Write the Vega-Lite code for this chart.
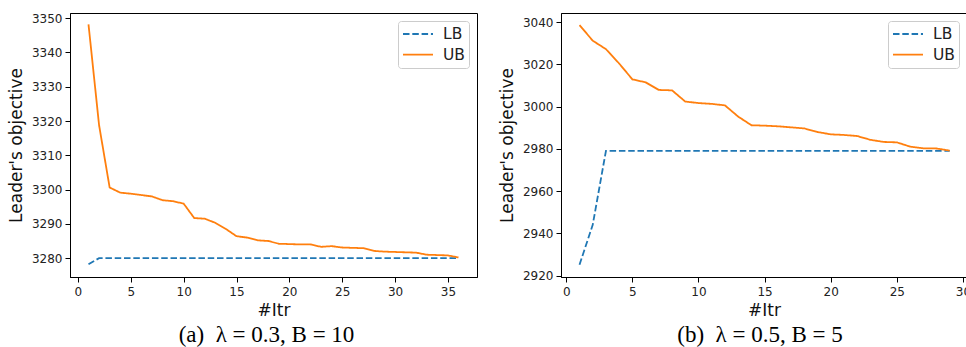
{
  "$schema": "https://vega.github.io/schema/vega-lite/v6.json",
  "background": "white",
  "padding": {"left": 6, "top": 11, "right": 0, "bottom": 0},
  "bounds": "flush",
  "spacing": 84,
  "config": {
    "view": {"stroke": "black", "strokeWidth": 1},
    "axis": {
      "grid": false,
      "domainColor": "black",
      "domainWidth": 1,
      "tickColor": "black",
      "tickSize": 5,
      "tickWidth": 1,
      "labelFont": "DejaVu Sans",
      "labelFontSize": 12,
      "labelColor": "#222222",
      "labelPadding": 3,
      "labelFlush": false,
      "labelOverlap": false,
      "format": "d",
      "titleFont": "DejaVu Sans",
      "titleFontSize": 17,
      "titleFontWeight": "normal",
      "titleColor": "#111111"
    },
    "axisX": {"labelPadding": 4, "titlePadding": 5},
    "axisY": {"titlePadding": 6},
    "legend": {
      "orient": "top-right",
      "offset": 8,
      "padding": 4,
      "strokeColor": "#cccccc",
      "fillColor": "rgba(255,255,255,0.8)",
      "cornerRadius": 3,
      "symbolType": "stroke",
      "symbolSize": 900,
      "symbolStrokeWidth": 1.8,
      "clipHeight": 18,
      "rowPadding": 2.7,
      "labelFont": "DejaVu Sans",
      "labelFontSize": 15.5,
      "labelColor": "#222222",
      "labelOffset": 9
    },
    "title": {
      "orient": "bottom",
      "anchor": "middle",
      "font": "Liberation Serif",
      "fontSize": 23,
      "fontWeight": "normal",
      "color": "black",
      "offset": 6
    }
  },
  "datasets": {
    "a": [
      {"series": "LB", "itr": 1, "value": 3278.2},
      {"series": "LB", "itr": 2, "value": 3280.0},
      {"series": "LB", "itr": 3, "value": 3280.0},
      {"series": "LB", "itr": 4, "value": 3280.0},
      {"series": "LB", "itr": 5, "value": 3280.0},
      {"series": "LB", "itr": 6, "value": 3280.0},
      {"series": "LB", "itr": 7, "value": 3280.0},
      {"series": "LB", "itr": 8, "value": 3280.0},
      {"series": "LB", "itr": 9, "value": 3280.0},
      {"series": "LB", "itr": 10, "value": 3280.0},
      {"series": "LB", "itr": 11, "value": 3280.0},
      {"series": "LB", "itr": 12, "value": 3280.0},
      {"series": "LB", "itr": 13, "value": 3280.0},
      {"series": "LB", "itr": 14, "value": 3280.0},
      {"series": "LB", "itr": 15, "value": 3280.0},
      {"series": "LB", "itr": 16, "value": 3280.0},
      {"series": "LB", "itr": 17, "value": 3280.0},
      {"series": "LB", "itr": 18, "value": 3280.0},
      {"series": "LB", "itr": 19, "value": 3280.0},
      {"series": "LB", "itr": 20, "value": 3280.0},
      {"series": "LB", "itr": 21, "value": 3280.0},
      {"series": "LB", "itr": 22, "value": 3280.0},
      {"series": "LB", "itr": 23, "value": 3280.0},
      {"series": "LB", "itr": 24, "value": 3280.0},
      {"series": "LB", "itr": 25, "value": 3280.0},
      {"series": "LB", "itr": 26, "value": 3280.0},
      {"series": "LB", "itr": 27, "value": 3280.0},
      {"series": "LB", "itr": 28, "value": 3280.0},
      {"series": "LB", "itr": 29, "value": 3280.0},
      {"series": "LB", "itr": 30, "value": 3280.0},
      {"series": "LB", "itr": 31, "value": 3280.0},
      {"series": "LB", "itr": 32, "value": 3280.0},
      {"series": "LB", "itr": 33, "value": 3280.0},
      {"series": "LB", "itr": 34, "value": 3280.0},
      {"series": "LB", "itr": 35, "value": 3280.0},
      {"series": "LB", "itr": 36, "value": 3280.0},
      {"series": "UB", "itr": 1, "value": 3348.2},
      {"series": "UB", "itr": 2, "value": 3318.8},
      {"series": "UB", "itr": 3, "value": 3300.6},
      {"series": "UB", "itr": 4, "value": 3299.1},
      {"series": "UB", "itr": 5, "value": 3298.8},
      {"series": "UB", "itr": 6, "value": 3298.4},
      {"series": "UB", "itr": 7, "value": 3298.0},
      {"series": "UB", "itr": 8, "value": 3296.9},
      {"series": "UB", "itr": 9, "value": 3296.6},
      {"series": "UB", "itr": 10, "value": 3295.9},
      {"series": "UB", "itr": 11, "value": 3291.7},
      {"series": "UB", "itr": 12, "value": 3291.5},
      {"series": "UB", "itr": 13, "value": 3290.3},
      {"series": "UB", "itr": 14, "value": 3288.5},
      {"series": "UB", "itr": 15, "value": 3286.4},
      {"series": "UB", "itr": 16, "value": 3286.0},
      {"series": "UB", "itr": 17, "value": 3285.2},
      {"series": "UB", "itr": 18, "value": 3285.0},
      {"series": "UB", "itr": 19, "value": 3284.2},
      {"series": "UB", "itr": 20, "value": 3284.1},
      {"series": "UB", "itr": 21, "value": 3284.0},
      {"series": "UB", "itr": 22, "value": 3284.0},
      {"series": "UB", "itr": 23, "value": 3283.3},
      {"series": "UB", "itr": 24, "value": 3283.5},
      {"series": "UB", "itr": 25, "value": 3283.1},
      {"series": "UB", "itr": 26, "value": 3283.0},
      {"series": "UB", "itr": 27, "value": 3282.9},
      {"series": "UB", "itr": 28, "value": 3282.1},
      {"series": "UB", "itr": 29, "value": 3281.9},
      {"series": "UB", "itr": 30, "value": 3281.8},
      {"series": "UB", "itr": 31, "value": 3281.7},
      {"series": "UB", "itr": 32, "value": 3281.6},
      {"series": "UB", "itr": 33, "value": 3281.0},
      {"series": "UB", "itr": 34, "value": 3280.9},
      {"series": "UB", "itr": 35, "value": 3280.8},
      {"series": "UB", "itr": 36, "value": 3280.2}
    ],
    "b": [
      {"series": "LB", "itr": 1, "value": 2925.2},
      {"series": "LB", "itr": 2, "value": 2944.1},
      {"series": "LB", "itr": 3, "value": 2979.1},
      {"series": "LB", "itr": 4, "value": 2979.1},
      {"series": "LB", "itr": 5, "value": 2979.1},
      {"series": "LB", "itr": 6, "value": 2979.1},
      {"series": "LB", "itr": 7, "value": 2979.1},
      {"series": "LB", "itr": 8, "value": 2979.1},
      {"series": "LB", "itr": 9, "value": 2979.1},
      {"series": "LB", "itr": 10, "value": 2979.1},
      {"series": "LB", "itr": 11, "value": 2979.1},
      {"series": "LB", "itr": 12, "value": 2979.1},
      {"series": "LB", "itr": 13, "value": 2979.1},
      {"series": "LB", "itr": 14, "value": 2979.1},
      {"series": "LB", "itr": 15, "value": 2979.1},
      {"series": "LB", "itr": 16, "value": 2979.1},
      {"series": "LB", "itr": 17, "value": 2979.1},
      {"series": "LB", "itr": 18, "value": 2979.1},
      {"series": "LB", "itr": 19, "value": 2979.1},
      {"series": "LB", "itr": 20, "value": 2979.1},
      {"series": "LB", "itr": 21, "value": 2979.1},
      {"series": "LB", "itr": 22, "value": 2979.1},
      {"series": "LB", "itr": 23, "value": 2979.1},
      {"series": "LB", "itr": 24, "value": 2979.1},
      {"series": "LB", "itr": 25, "value": 2979.1},
      {"series": "LB", "itr": 26, "value": 2979.1},
      {"series": "LB", "itr": 27, "value": 2979.1},
      {"series": "LB", "itr": 28, "value": 2979.1},
      {"series": "LB", "itr": 29, "value": 2979.1},
      {"series": "UB", "itr": 1, "value": 3038.6},
      {"series": "UB", "itr": 2, "value": 3031.2},
      {"series": "UB", "itr": 3, "value": 3027.2},
      {"series": "UB", "itr": 4, "value": 3020.4},
      {"series": "UB", "itr": 5, "value": 3012.9},
      {"series": "UB", "itr": 6, "value": 3011.5},
      {"series": "UB", "itr": 7, "value": 3007.9},
      {"series": "UB", "itr": 8, "value": 3007.7},
      {"series": "UB", "itr": 9, "value": 3002.4},
      {"series": "UB", "itr": 10, "value": 3001.7},
      {"series": "UB", "itr": 11, "value": 3001.3},
      {"series": "UB", "itr": 12, "value": 3000.6},
      {"series": "UB", "itr": 13, "value": 2995.3},
      {"series": "UB", "itr": 14, "value": 2991.2},
      {"series": "UB", "itr": 15, "value": 2991.0},
      {"series": "UB", "itr": 16, "value": 2990.7},
      {"series": "UB", "itr": 17, "value": 2990.2},
      {"series": "UB", "itr": 18, "value": 2989.7},
      {"series": "UB", "itr": 19, "value": 2988.0},
      {"series": "UB", "itr": 20, "value": 2986.9},
      {"series": "UB", "itr": 21, "value": 2986.6},
      {"series": "UB", "itr": 22, "value": 2986.1},
      {"series": "UB", "itr": 23, "value": 2984.3},
      {"series": "UB", "itr": 24, "value": 2983.3},
      {"series": "UB", "itr": 25, "value": 2983.1},
      {"series": "UB", "itr": 26, "value": 2981.1},
      {"series": "UB", "itr": 27, "value": 2980.3},
      {"series": "UB", "itr": 28, "value": 2980.2},
      {"series": "UB", "itr": 29, "value": 2979.2}
    ]
  },
  "resolve": {
    "scale": {"color": "independent", "strokeDash": "independent"},
    "legend": {"color": "independent", "strokeDash": "independent"}
  },
  "hconcat": [
    {
      "width": 407,
      "height": 264,
      "data": {"name": "a"},
      "title": {"text": "(a)\u2002λ = 0.3, B = 10", "dx": -7},
      "mark": {"type": "line", "strokeWidth": 1.8},
      "encoding": {
        "x": {"field": "itr", "type": "quantitative", "title": "#Itr",
              "scale": {"domain": [-0.75, 37.75], "nice": false, "zero": false},
              "axis": {"values": [0, 5, 10, 15, 20, 25, 30, 35]}},
        "y": {"field": "value", "type": "quantitative", "title": "Leader's objective",
              "scale": {"domain": [3274.5, 3351.5], "nice": false, "zero": false},
              "axis": {"values": [3280, 3290, 3300, 3310, 3320, 3330, 3340, 3350]}},
        "color": {"field": "series", "type": "nominal",
                  "scale": {"domain": ["LB", "UB"], "range": ["#1f77b4", "#ff7f0e"]},
                  "legend": {"title": null}},
        "strokeDash": {"field": "series", "type": "nominal",
                       "scale": {"domain": ["LB", "UB"], "range": [[6.5, 2.8], [1, 0]]},
                       "legend": {"title": null}}
      }
    },
    {
      "width": 406,
      "height": 264,
      "data": {"name": "b"},
      "title": {"text": "(b)\u2002λ = 0.5, B = 5", "dx": -4},
      "mark": {"type": "line", "strokeWidth": 1.8},
      "encoding": {
        "x": {"field": "itr", "type": "quantitative", "title": "#Itr",
              "scale": {"domain": [-0.4, 30.31], "nice": false, "zero": false},
              "axis": {"values": [0, 5, 10, 15, 20, 25, 30]}},
        "y": {"field": "value", "type": "quantitative", "title": "Leader's objective",
              "scale": {"domain": [2919.4, 3044.3], "nice": false, "zero": false},
              "axis": {"values": [2920, 2940, 2960, 2980, 3000, 3020, 3040]}},
        "color": {"field": "series", "type": "nominal",
                  "scale": {"domain": ["LB", "UB"], "range": ["#1f77b4", "#ff7f0e"]},
                  "legend": {"title": null}},
        "strokeDash": {"field": "series", "type": "nominal",
                       "scale": {"domain": ["LB", "UB"], "range": [[6.5, 2.8], [1, 0]]},
                       "legend": {"title": null}}
      }
    }
  ]
}
